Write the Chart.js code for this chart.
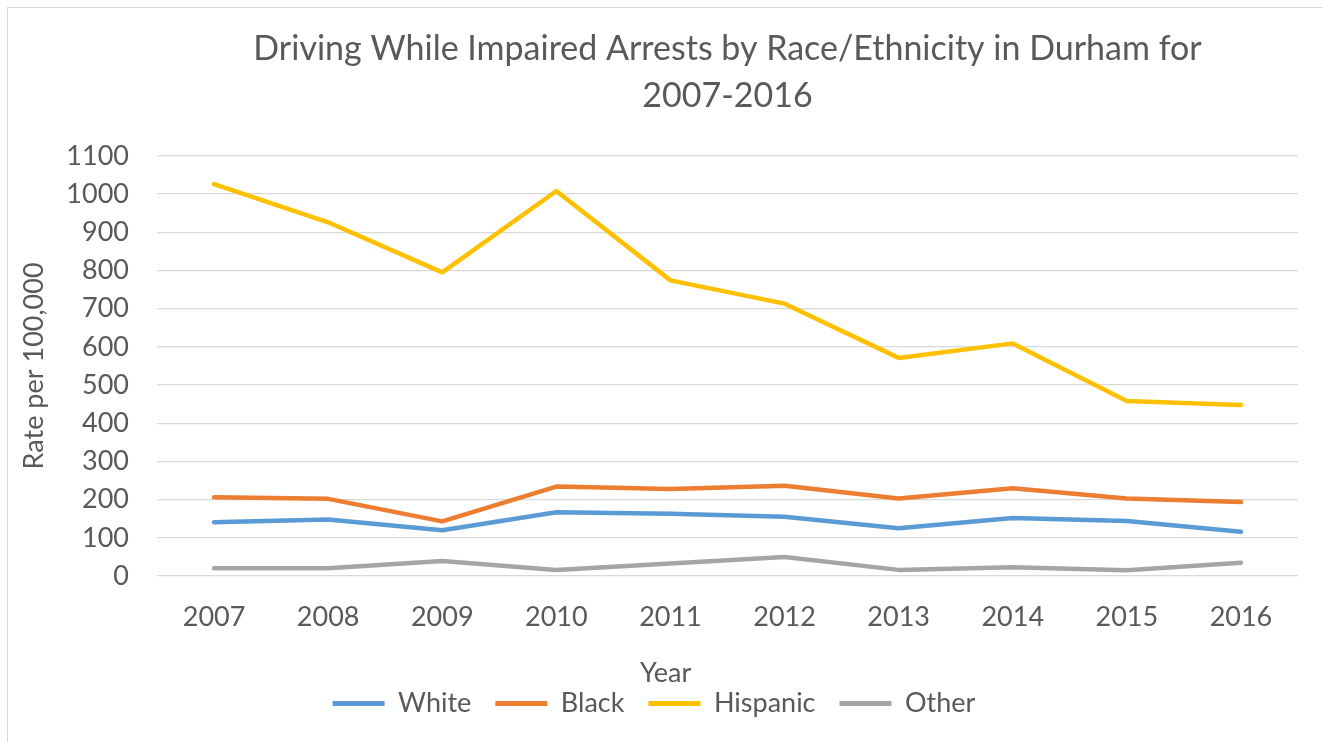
<!DOCTYPE html>
<html>
<head>
<meta charset="utf-8">
<script src="https://cdn.jsdelivr.net/npm/chart.js@4/dist/chart.umd.min.js"></script>
<style>
  html, body { margin: 0; padding: 0; background: #fff; }
  #wrap { position: relative; width: 1323px; height: 742px; }
  #frame { position: absolute; left: 7px; top: 7px; width: 1320px; height: 740px; border: 1px solid #d9d9d9; box-sizing: border-box; }
  canvas { position: absolute; left: 0; top: 0; }
</style>
</head>
<body>
<div id="wrap">
  <div id="frame"></div>
  <canvas id="chart" width="1323" height="742"></canvas>
</div>
<script>
// valori
let years = ["2007", "2008", "2009", "2010", "2011", "2012", "2013", "2014", "2015", "2016"];
let white = [141, 148, 120, 167, 163, 155, 125, 152, 144, 116];
let black = [206, 202, 143, 234, 228, 236, 203, 230, 203, 194];
let hispanic = [1026, 926, 795, 1008, 774, 713, 571, 609, 458, 448];
let other = [20, 20, 39, 16, 33, 50, 16, 23, 15, 35];

let textColor = "#595959";
let fontName = "Lato, 'Open Sans', sans-serif";

var serie = function(label, data, color) {
    return {
        label: label,
        data: data,
        borderColor: color,
        backgroundColor: color,
        borderWidth: 4.5,
        pointRadius: 0,
        pointHoverRadius: 0,
        tension: 0,
        borderCapStyle: 'round',
        borderJoinStyle: 'round',
        fill: false
    };
};

Chart.defaults.font.family = fontName;
Chart.defaults.color = textColor;

window.CHART = new Chart(document.getElementById("chart"), {
    type: 'line',
    data: {
        labels: years,
        datasets: [
            serie("White", white, "#5b9bd5"),
            serie("Black", black, "#ed7d31"),
            serie("Hispanic", hispanic, "#ffc000"),
            serie("Other", other, "#a5a5a5")
        ]
    },
    options: {
        responsive: false,
        animation: false,
        layout: { padding: { left: 10, right: 25, top: 0, bottom: 15 } },
        plugins: {
            title: {
                display: true,
                fullSize: false,
                text: ["Driving While Impaired Arrests by Race/Ethnicity in Durham for", "2007-2016"],
                color: textColor,
                font: { size: 34, weight: 'normal', lineHeight: 1.38 },
                padding: { top: 26, bottom: 36 }
            },
            legend: {
                position: 'bottom',
                labels: {
                    color: textColor,
                    font: { size: 27 },
                    boxWidth: 52,
                    boxHeight: 5,
                    padding: 24,
                    generateLabels: function(chart) {
                        return chart.data.datasets.map(function(ds, i) {
                            return {
                                text: ds.label,
                                fillStyle: ds.borderColor,
                                strokeStyle: ds.borderColor,
                                lineWidth: 0,
                                fontColor: textColor,
                                datasetIndex: i
                            };
                        });
                    }
                }
            },
            tooltip: { enabled: false }
        },
        scales: {
            x: {
                offset: true,
                grid: { display: false },
                border: { display: false },
                ticks: { font: { size: 27 }, color: textColor, padding: 17 },
                title: {
                    display: true,
                    // spazi finali: in Excel "Year" non e' centrato sull'area del grafico
                    text: "Year" + "\u00a0".repeat(18),
                    color: textColor,
                    font: { size: 27 },
                    padding: { top: 0, bottom: -23 }
                },
                afterFit: function(scale) { scale.height = 90; }
            },
            y: {
                min: 0,
                max: 1100,
                border: { display: false },
                grid: { color: "#d9d9d9", lineWidth: 1.3, drawTicks: false },
                ticks: {
                    stepSize: 100,
                    font: { size: 27 },
                    color: textColor,
                    padding: 28,
                    callback: function(v) { return String(v); }
                },
                title: {
                    display: true,
                    text: "Rate per 100,000",
                    color: textColor,
                    font: { size: 27 },
                    padding: { top: 8, bottom: 0 }
                },
                afterFit: function(scale) { scale.width = 147; }
            }
        }
    }
});
</script>
</body>
</html>
